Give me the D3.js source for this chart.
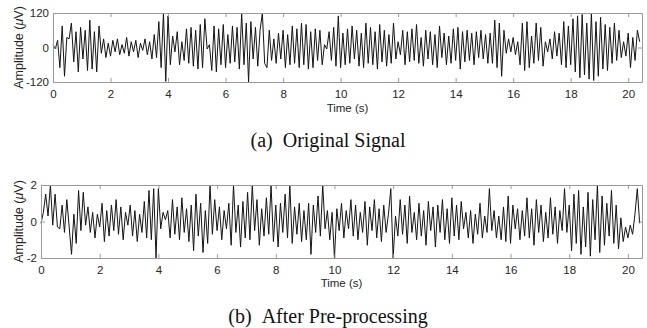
<!DOCTYPE html>
<html>
<head>
<meta charset="utf-8">
<script src="https://cdn.jsdelivr.net/npm/d3@7"></script>
<style>
  body { margin: 0; background: #fff; }
  svg { display: block; }
</style>
</head>
<body>
<svg id="chart" width="647" height="328"></svg>
<script>
// sample step (s) and x range
const step = 0.08;
const xMax = 20.48;
const xTicks = [0, 2, 4, 6, 8, 10, 12, 14, 16, 18, 20];

// (a) original signal, µV
const originalSignal = [
  10, -5, 25, -70, 75, -100, 35, 30, 85, -50, 55, -85, 70, -40, 60, -80,
  95, -75, 55, -85, 75, -20, 30, -35, 15, -30, 25, -15, 30, -25, 10, -20,
  35, -30, 20, -15, 25, -35, 15, -10, 30, -25, 20, -40, 45, -35, 90, -70,
  120, -118, 110, -60, 40, -15, 55, -60, 20, -45, 65, -55, 70, -65, 60, -75,
  80, -70, 100, -5, 10, -80, 75, -85, 65, -60, 80, -70, 45, -55, 75, -50,
  70, -75, 120, -60, 85, -120, 90, -40, 70, -65, 60, 120, -55, -70, 60, -45,
  30, -55, 50, -40, 60, -70, 45, -60, 75, -55, 65, -70, 85, -60, 80, -75,
  55, -70, 65, -45, 60, -60, 10, -5, 55, -45, 70, -65, 110, -70, 50, -60,
  65, -55, 75, -40, 60, -65, 50, -70, 85, -55, 70, -60, 55, -75, 80, -50,
  60, -65, 45, -55, 85, -40, 20, -25, 60, -60, 55, -50, 65, -45, 80, -55,
  35, -65, 60, -40, 55, -60, 45, -70, 75, -35, 50, -60, 40, -55, 65, -45,
  70, -75, 55, -50, 60, -45, 50, -60, 55, -35, 60, -40, 45, -55, 50, -55,
  95, -70, 85, -100, 60, -20, 30, -15, 35, -25, 20, -60, 85, -80, 90, -70,
  40, -55, 85, -45, 70, -65, 20, -15, 30, -40, 55, -30, 50, -60, 90, -70,
  75, -60, 100, -85, 110, -105, 115, -95, 85, -110, 120, -115, 90, -100, 105, -75,
  80, -80, 70, -55, 85, -45, 60, -35, 20, -30, 50, -70, 35, -45, 60, 20
];

// (b) after pre-processing, µV
const processedSignal = [
  -0.1, 0.5, 1.5, 0.3, 2.0, -0.2, 1.5, -0.3, -0.4, 0.9, -0.6, 1.2, -0.3, -1.8, 0.4, -1.2,
  1.7, -0.5, 1.6, -0.2, 0.8, -0.6, 0.5, -0.9, 0.4, -0.3, 1.0, -1.1, 0.6, -0.8, 0.9, -0.5,
  1.2, -0.7, 0.8, -1.0, 0.5, -0.2, 0.9, -0.8, 0.6, -1.1, 0.4, -0.6, 1.1, -0.9, 1.7, -1.0,
  1.8, -2.0, 1.8, -0.4, 0.5, 0.1, 0.6, -0.9, 1.2, -0.7, 0.8, -1.0, 1.3, -0.6, 0.7, -1.1,
  0.9, -1.6, 1.5, -0.8, 1.0, -1.7, 0.6, -1.2, 2.0, -0.7, 1.2, -0.5, 0.8, -1.0, 0.6, -0.4,
  1.0, -1.3, 2.0, -0.6, 0.9, -1.4, 1.1, -0.9, 1.6, -1.0, 2.0, -0.5, 1.2, -1.3, 0.7, -0.8,
  1.3, -0.7, 2.0, -1.1, 0.9, -1.4, 1.0, -0.6, 1.5, -0.9, 2.0, -1.2, 0.8, -0.7, 1.0, -1.1,
  0.6, -1.0, 1.0, -1.8, 0.9, -0.6, 1.4, -0.8, 2.0, -0.4, 0.6, -1.0, 0.5, -2.0, 0.7, -0.5,
  1.0, -0.9, 0.6, -0.4, 1.2, -0.8, 0.9, -1.0, 0.5, -0.6, 1.1, -1.3, 0.8, -0.5, 1.2, -0.9,
  0.7, -1.1, 0.9, -0.6, 0.4, 1.8, -2.0, 0.3, -0.8, 1.2, -0.7, 0.9, -1.2, 1.4, -0.6, 0.5,
  -1.0, 1.0, -0.8, 0.6, -1.3, 1.1, -0.5, 0.8, -1.4, 0.9, -0.6, 1.2, -1.0, 0.7, -1.2, 1.3,
  -0.8, 0.9, -1.0, 1.1, -0.4, 0.5, -0.9, 0.6, -1.2, 0.4, -0.7, 1.0, -0.9, 0.3, -0.6, 1.8,
  -0.5, 0.6, -0.9, 0.3, -1.0, 0.8, -1.1, 1.4, -1.2, 0.9, -0.4, 0.7, -1.0, 0.6, -0.8, 1.3,
  -0.9, 0.7, -1.3, 1.2, -0.6, 0.9, -1.1, 0.5, -0.9, 1.3, -0.7, 0.8, -1.2, 0.6, -0.5, 1.8,
  -0.6, 0.9, -1.6, 1.5, -1.2, 1.7, -1.8, 0.8, -1.4, 1.6, -1.9, 1.2, -1.0, 2.0, -1.7, 1.4,
  -1.3, 1.0, -0.8, 1.7, -1.2, 0.9, -1.5, 0.2, -1.1, -0.3, -0.9, -0.2, -0.7, 0.4, 1.8, -0.1
];

const panels = [
  { values: originalSignal, yMax: 120, yTicks: [-120, 0, 120], left: 53, top: 13, bottom: 82,
    caption: "(a)\u2002Original Signal", captionY: 147, titleY: 112 },
  { values: processedSignal, yMax: 2, yTicks: [-2, 0, 2], left: 41, top: 185, bottom: 258,
    caption: "(b)\u2002After Pre-processing", captionY: 323, titleY: 287 }
];

const right = 642;
const svg = d3.select("#chart");
const axisColor = "#9a9a9a";
const textColor = "#262626";
const sans = "Liberation Sans, Arial, Helvetica, sans-serif";

panels.forEach(p => {
  const x = d3.scaleLinear().domain([0, xMax]).range([p.left, right]);
  const y = d3.scaleLinear().domain([-p.yMax, p.yMax]).range([p.bottom, p.top]);
  const g = svg.append("g");

  // signal
  const line = d3.line()
    .x((d, i) => x(i * step))
    .y(d => y(d));
  g.append("path")
    .datum(p.values)
    .attr("d", line)
    .style("fill", "none")
    .style("stroke", "#141414")
    .style("stroke-width", "1px")
    .style("stroke-linejoin", "round");

  // axes, MATLAB style: ticks inside, box on
  const axes = [
    d3.axisBottom(x).tickValues(xTicks).tickSizeInner(-4).tickSizeOuter(0).tickPadding(8).tickFormat(d => d),
    d3.axisTop(x).tickValues(xTicks).tickSizeInner(-4).tickSizeOuter(0).tickFormat(""),
    d3.axisLeft(y).tickValues(p.yTicks).tickSizeInner(-4).tickSizeOuter(0).tickPadding(4).tickFormat(d => d),
    d3.axisRight(y).tickValues(p.yTicks).tickSizeInner(-4).tickSizeOuter(0).tickFormat("")
  ];
  const pos = [
    `translate(0,${p.bottom})`, `translate(0,${p.top})`,
    `translate(${p.left},0)`, `translate(${right},0)`
  ];
  axes.forEach((a, i) => {
    const ag = g.append("g").attr("transform", pos[i]).call(a);
    ag.selectAll("path, line").attr("stroke", axisColor);
    ag.selectAll("text")
      .attr("fill", textColor)
      .style("font-family", sans)
      .style("font-size", "11.5px");
  });

  // axis titles
  g.append("text")
    .attr("x", (p.left + right) / 2)
    .attr("y", p.titleY)
    .attr("text-anchor", "middle")
    .attr("fill", textColor)
    .style("font-family", sans)
    .style("font-size", "11.5px")
    .text("Time (s)");

  const yl = g.append("text")
    .attr("transform", `translate(23,${(p.top + p.bottom) / 2}) rotate(-90)`)
    .attr("text-anchor", "middle")
    .attr("fill", textColor)
    .style("font-family", sans)
    .style("font-size", "12.5px");
  yl.append("tspan").text("Amplitude (");
  yl.append("tspan").style("font-style", "italic").text("\u03bc");
  yl.append("tspan").text("V)");

  // caption
  svg.append("text")
    .attr("x", 328)
    .attr("y", p.captionY)
    .attr("text-anchor", "middle")
    .attr("fill", "#111")
    .style("font-family", "Liberation Serif, Times New Roman, serif")
    .style("font-size", "20px")
    .text(p.caption);
});
</script>
</body>
</html>
